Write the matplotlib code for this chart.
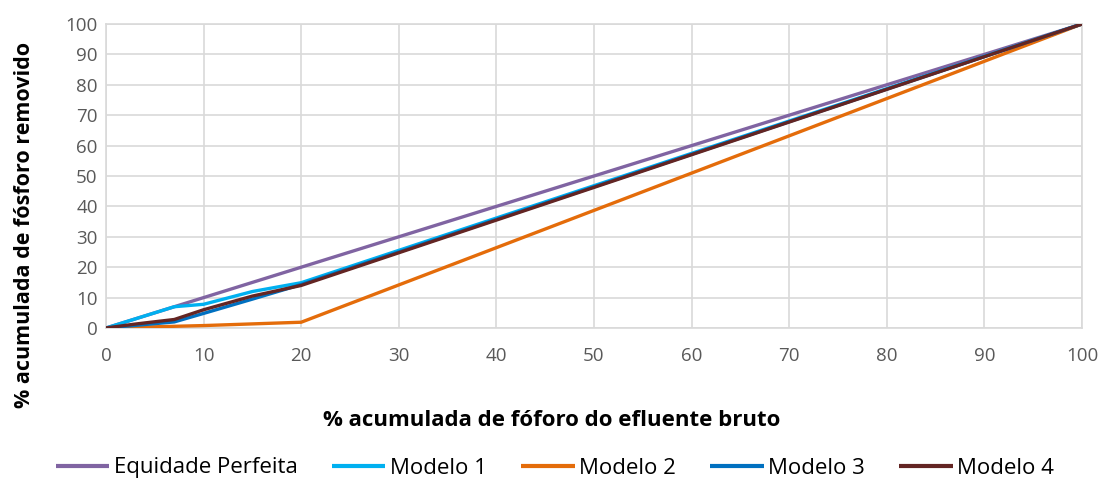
import matplotlib
matplotlib.use("Agg")
import matplotlib.pyplot as plt

# Cumulative phosphorus curves (% removed vs % of raw effluent)
equidade_x = [0, 100]
equidade_y = [0, 100]

modelo1_x = [0, 7, 10, 15, 20, 100]
modelo1_y = [0, 7.0, 7.8, 12.0, 14.9, 100]

modelo2_x = [0, 10, 20, 100]
modelo2_y = [0, 0.8, 1.9, 100]

modelo3_x = [0, 7, 10, 15, 20, 100]
modelo3_y = [0, 2.0, 4.8, 9.5, 14.3, 100]

modelo4_x = [0, 3, 7, 10, 15, 20, 100]
modelo4_y = [0, 1.3, 2.8, 6.0, 10.5, 14.0, 100]

series = [
    ("Equidade Perfeita", equidade_x, equidade_y, "#8064A2"),
    ("Modelo 1", modelo1_x, modelo1_y, "#00B0F0"),
    ("Modelo 2", modelo2_x, modelo2_y, "#E46C0A"),
    ("Modelo 3", modelo3_x, modelo3_y, "#0070C0"),
    ("Modelo 4", modelo4_x, modelo4_y, "#632523"),
]

x_ticks = list(range(0, 101, 10))
y_ticks = list(range(0, 101, 10))

plt.rcParams["font.family"] = ["Open Sans", "DejaVu Sans"]

W, H = 1103, 482
fig = plt.figure(figsize=(W / 100, H / 100), dpi=100)
ax = fig.add_axes([106 / W, 1 - 328 / H, 976 / W, 304 / H])

for label, xs, ys, color in series:
    ax.plot(xs, ys, color=color, lw=2.4, label=label, solid_capstyle="butt", zorder=3)

ax.set_xlim(0, 100)
ax.set_ylim(0, 100)
ax.set_xticks(x_ticks)
ax.set_yticks(y_ticks)
ax.grid(True, color="#d9d9d9", lw=1.2, zorder=0)
ax.set_axisbelow(True)
for s in ax.spines.values():
    s.set_color("#d9d9d9")
    s.set_linewidth(1.2)
ax.tick_params(length=0, labelsize=13.5, labelcolor="#595959")
ax.tick_params(axis="x", pad=14)
ax.tick_params(axis="y", pad=6)

fig.text(552 / W, 1 - 420 / H, "% acumulada de fóforo do efluente bruto",
         fontsize=16, fontweight="bold", color="#000000",
         ha="center", va="center")
fig.text(25 / W, 1 - 225 / H, "% acumulada de fósforo removido",
         fontsize=15.5, fontweight="bold", color="#000000",
         ha="center", va="center", rotation=90)

leg = fig.legend(loc="center", bbox_to_anchor=(555 / W, 1 - 468 / H), ncol=5,
                 frameon=False, fontsize=16, handlelength=2.4,
                 handletextpad=0.2, columnspacing=1.55, borderaxespad=0)
for line in leg.get_lines():
    line.set_linewidth(3)

fig.savefig("out.png", dpi=100)
